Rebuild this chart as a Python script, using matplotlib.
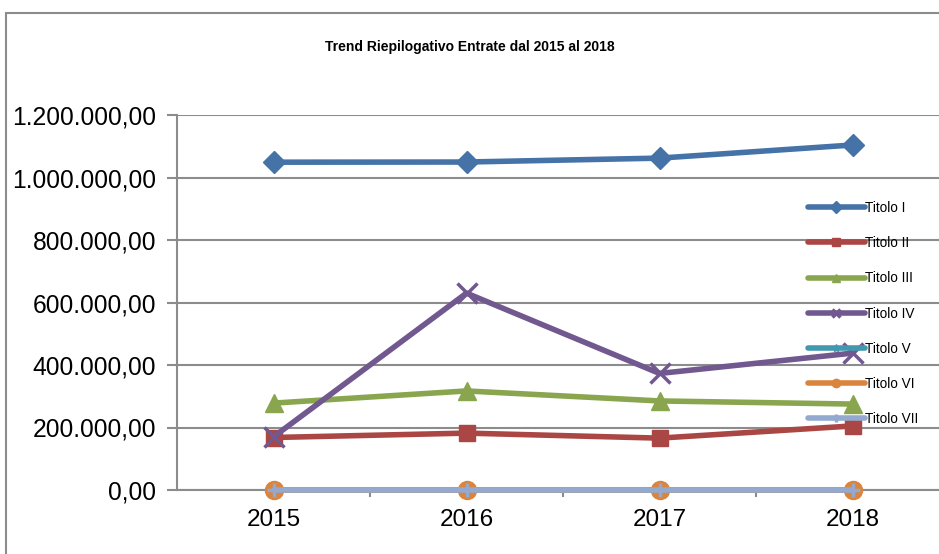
import matplotlib
matplotlib.use("Agg")
import matplotlib.pyplot as plt
from matplotlib.patches import Rectangle
from matplotlib.ticker import FuncFormatter, FixedLocator

plt.rcParams["font.family"] = ["Liberation Sans", "DejaVu Sans"]

years = ["2015", "2016", "2017", "2018"]
series_names = ["Titolo I", "Titolo II", "Titolo III", "Titolo IV",
                "Titolo V", "Titolo VI", "Titolo VII"]
titolo_1 = [1049000, 1049500, 1062000, 1104000]
titolo_2 = [168000, 182000, 166000, 205000]
titolo_3 = [278000, 317000, 285000, 275000]
titolo_4 = [170000, 630000, 373000, 438000]
titolo_5 = [0, 0, 0, 0]
titolo_6 = [0, 0, 0, 0]
titolo_7 = [0, 0, 0, 0]
y_ticks = [0, 200000, 400000, 600000, 800000, 1000000, 1200000]

values = [titolo_1, titolo_2, titolo_3, titolo_4, titolo_5, titolo_6, titolo_7]
colors = ["#4572A7", "#AA4643", "#89A54E", "#71588F", "#4198AF", "#DB843D", "#93A9CF"]
markers = ["D", "s", "^", "x", "*", "o", "+"]
msizes = [11, 12, 13, 15, 8, 13, 10]

fig = plt.figure(figsize=(9.39, 5.54), dpi=100)

# outer chart border (runs off the right/bottom edge)
fig.patches.append(Rectangle((6 / 939, -0.05), 1.0, 1 - 13 / 554 + 0.05,
                             transform=fig.transFigure, fill=False,
                             edgecolor="#8c8c8c", linewidth=1.5))

ax = fig.add_axes([177 / 939, 64 / 554, 772 / 939, 375 / 554])
x = list(range(len(years)))

handles = []
for name, vals, c, m, ms in zip(series_names, values, colors, markers, msizes):
    mew = 2.5 if m in ("x", "+") else 1.0
    h, = ax.plot(x, vals, color=c, linewidth=4, marker=m, markersize=ms,
                 markeredgewidth=mew, markeredgecolor=c, label=name,
                 solid_capstyle="round", zorder=3, clip_on=False)
    handles.append(h)

ax.set_xlim(-0.5, 3.5)
ax.set_ylim(0, 1200000)
ax.yaxis.set_major_locator(FixedLocator(y_ticks))
ax.yaxis.set_major_formatter(FuncFormatter(
    lambda v, p: f"{v:,.2f}".replace(",", "X").replace(".", ",").replace("X", ".")))
ax.set_xticks(x)
ax.set_xticklabels(years)
ax.xaxis.set_minor_locator(FixedLocator([0.5, 1.5, 2.5]))

ax.grid(axis="y", color="#8c8c8c", linewidth=1.5, zorder=1)
for s in ["top", "right"]:
    ax.spines[s].set_visible(False)
for s in ["left", "bottom"]:
    ax.spines[s].set_color("#8c8c8c")
    ax.spines[s].set_linewidth(1.5)

ax.tick_params(axis="y", length=7, width=1.5, color="#8c8c8c", labelsize=17.7, pad=8)
ax.tick_params(axis="x", which="major", length=0, labelsize=17.5, pad=14)
ax.tick_params(axis="x", which="minor", length=5, width=1.5, color="#8c8c8c")

fig.text(470 / 939, 1 - 47 / 554, "Trend Riepilogativo Entrate dal 2015 al 2018",
         ha="center", va="center", fontsize=10, fontweight="bold")

leg = fig.legend(handles=handles, loc="upper left",
                 bbox_to_anchor=(801 / 939, 1 - 194 / 554), frameon=False,
                 fontsize=9.8, handlelength=4.2, handletextpad=0.0,
                 labelspacing=1.56, borderpad=0)
for lh in leg.legend_handles:
    lh.set_markersize(6)

fig.savefig("out.png", dpi=100)
